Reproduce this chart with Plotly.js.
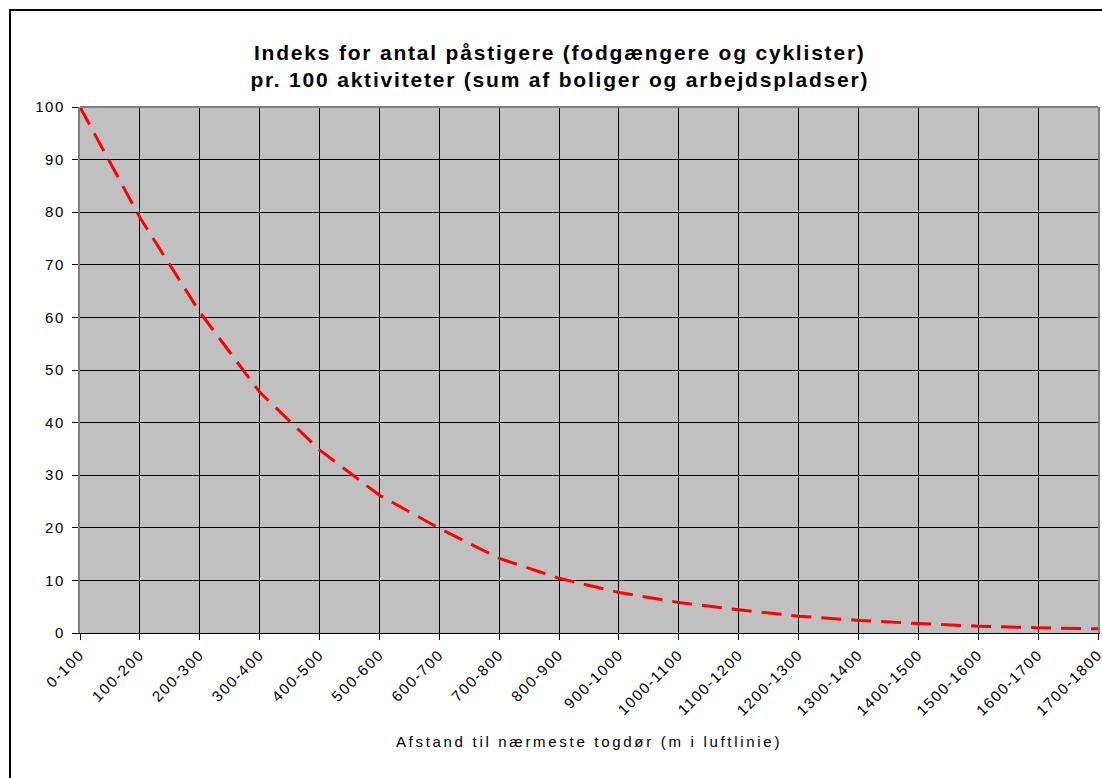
<!DOCTYPE html>
<html>
<head>
<meta charset="utf-8">
<script src="https://cdn.plot.ly/plotly-3.0.1.min.js"></script>
<style>
html,body{margin:0;padding:0;background:#fff;overflow:hidden;}
#chart{position:absolute;left:0;top:0;width:1102px;height:778px;}
#chart .gtitle{letter-spacing:1.8px;}
#chart .xtick text, #chart .ytick text{letter-spacing:1.6px;}
#chart .xtitle{letter-spacing:2.7px;}
</style>
</head>
<body>
<div id="chart"></div>
<script>
const categories = ["0-100","100-200","200-300","300-400","400-500","500-600","600-700","700-800","800-900","900-1000","1000-1100","1100-1200","1200-1300","1300-1400","1400-1500","1500-1600","1600-1700","1700-1800"];
const indexValues = [100, 79, 61, 45.8, 34.8, 26.2, 19.9, 14.2, 10.4, 7.7, 5.8, 4.4, 3.2, 2.4, 1.8, 1.3, 1.0, 0.8];
const yTicks = [0,10,20,30,40,50,60,70,80,90,100];

const W = 1102, H = 778;
const M = {l: 80, r: 4, t: 107, b: 145};
const pw = W - M.l - M.r, ph = H - M.t - M.b;
// outer chart frame (left/top edges visible at 10px; right/bottom lie outside the picture)
const frame = {
  type: 'rect', xref: 'paper', yref: 'paper', layer: 'above',
  x0: (10 - M.l) / pw, x1: 2,
  y0: -2, y1: (H - M.b - 10) / ph,
  line: {color: '#000', width: 2}, fillcolor: 'rgba(0,0,0,0)'
};
const topEdge = {
  type: 'line', xref: 'paper', yref: 'paper', layer: 'above',
  x0: 0, x1: 1, y0: 1, y1: 1,
  line: {color: '#808080', width: 2}
};

const trace = {
  x: categories,
  y: indexValues,
  type: 'scatter',
  mode: 'lines',
  line: {color: '#FF0000', width: 3, dash: '20px,10px'},
  hoverinfo: 'x+y'
};

const layout = {
  width: W, height: H,
  paper_bgcolor: '#FFFFFF',
  plot_bgcolor: '#C0C0C0',
  margin: M,
  showlegend: false,
  shapes: [frame, topEdge],
  font: {family: 'Liberation Sans, Arial, sans-serif', color: '#000'},
  title: {
    text: '<b>Indeks for antal påstigere (fodgængere og cyklister)<br>pr. 100 aktiviteter (sum af boliger og arbejdspladser)</b>',
    font: {size: 21, family: 'Liberation Sans, Arial, sans-serif', color: '#000'},
    xref: 'container', x: 0.508, xanchor: 'center',
    yref: 'container', y: 1 - 60/778, yanchor: 'middle'
  },
  xaxis: {
    type: 'category',
    range: [0, categories.length - 1],
    tickangle: -45,
    tickfont: {size: 15},
    ticks: 'outside', ticklen: 6, tickcolor: '#000',
    showgrid: true, gridcolor: '#000', gridwidth: 1,
    showline: true, linecolor: '#000', linewidth: 1,
    zeroline: false,
    title: {text: 'Afstand til nærmeste togdør (m i luftlinie)', font: {size: 15}, standoff: 28},
    fixedrange: true
  },
  yaxis: {
    range: [0, 100],
    tickvals: yTicks,
    tickfont: {size: 15},
    ticks: 'outside', ticklen: 6, tickcolor: '#000',
    ticklabelstandoff: 4,
    showgrid: true, gridcolor: '#000', gridwidth: 1,
    showline: true, linecolor: '#808080', linewidth: 2, mirror: true,
    zeroline: false,
    fixedrange: true
  }
};

Plotly.newPlot('chart', [trace], layout, {displayModeBar: false, staticPlot: true});
</script>
</body>
</html>
